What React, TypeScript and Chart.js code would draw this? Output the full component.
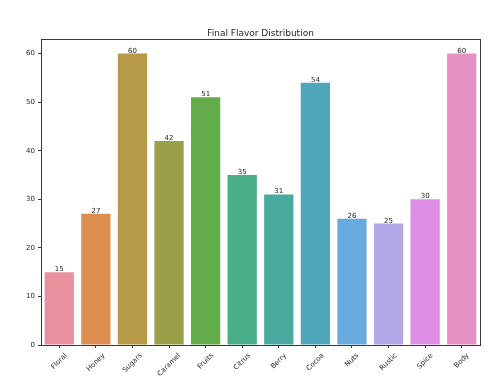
import React, { useEffect, useRef } from 'react';
import { Chart, registerables } from 'chart.js';

Chart.register(...registerables);

const chartTitle = 'Final Flavor Distribution';
const categories = ['Floral', 'Honey', 'Sugars', 'Caramel', 'Fruits', 'Citrus', 'Berry', 'Cocoa', 'Nuts', 'Rustic', 'Spice', 'Body'];
const counts = [15, 27, 60, 42, 51, 35, 31, 54, 26, 25, 30, 60];
const barColors = ['#e8919f', '#de8d50', '#b69a48', '#9aa047', '#63ac4b', '#4aae88', '#4aaa9f', '#4ea8b9', '#69aade', '#b4a7e8', '#de8ee6', '#e691c4'];
const yTicks = [0, 10, 20, 30, 40, 50, 60];
const yMax = 63;

const FONT = '"DejaVu Sans", sans-serif';
const TEXT = '#262626';

const decorPlugin = {
  id: 'decor',
  afterDraw(chart: any) {
    const { ctx, chartArea } = chart;
    const xs = chart.scales.x;
    const ys = chart.scales.y;
    ctx.save();
    // frame
    ctx.strokeStyle = '#3a3a3a';
    ctx.lineWidth = 1;
    ctx.strokeRect(Math.round(chartArea.left) + 0.5, Math.round(chartArea.top) + 0.5,
      Math.round(chartArea.right - chartArea.left), Math.round(chartArea.bottom - chartArea.top));
    // title
    ctx.fillStyle = TEXT;
    ctx.font = `9px ${FONT}`;
    ctx.textAlign = 'center';
    ctx.textBaseline = 'alphabetic';
    ctx.fillText(chartTitle, (chartArea.left + chartArea.right) / 2, chartArea.top - 3);
    // value labels
    ctx.font = `7px ${FONT}`;
    ctx.textBaseline = 'alphabetic';
    counts.forEach((v, i) => {
      const x = xs.getPixelForValue(i);
      const y = ys.getPixelForValue(v);
      ctx.fillText(String(v), x, y - 1);
    });
    // rotated x labels
    ctx.font = `7px ${FONT}`;
    ctx.textBaseline = 'middle';
    const h = 7;
    categories.forEach((c, i) => {
      const x = xs.getPixelForValue(i);
      const w = ctx.measureText(c).width;
      const bboxH = (w + h) * Math.SQRT1_2;
      const top = chartArea.bottom + 7;
      ctx.save();
      ctx.translate(x, top + bboxH / 2);
      ctx.rotate(-Math.PI / 4);
      ctx.fillText(c, 0, 0);
      ctx.restore();
    });
    ctx.restore();
  },
};

export default function App() {
  const canvasRef = useRef<HTMLCanvasElement | null>(null);

  useEffect(() => {
    document.body.style.margin = '0';
    const canvas = canvasRef.current;
    if (!canvas) return;
    const chart = new Chart(canvas, {
      type: 'bar',
      data: {
        labels: categories,
        datasets: [
          {
            data: counts,
            backgroundColor: barColors,
            borderWidth: 0,
            barPercentage: 0.8,
            categoryPercentage: 1,
          },
        ],
      },
      options: {
        animation: false,
        responsive: true,
        maintainAspectRatio: false,
        layout: { padding: { top: 39, right: 19, left: 0, bottom: 0 } },
        plugins: {
          legend: { display: false },
          title: { display: false },
          tooltip: { enabled: false },
        },
        scales: {
          x: {
            ticks: { display: false },
            grid: { display: true, drawOnChartArea: false, drawTicks: true, tickLength: 3, offset: false, color: '#3a3a3a' },
            border: { display: false },
            afterFit(scale: any) {
              scale.height = 36;
            },
          },
          y: {
            min: 0,
            max: yMax,
            afterBuildTicks(scale: any) {
              scale.ticks = yTicks.map((v) => ({ value: v }));
            },
            ticks: {
              font: { family: FONT, size: 7 },
              color: TEXT,
              padding: 3,
            },
            grid: { display: true, drawOnChartArea: false, drawTicks: true, tickLength: 3, color: '#3a3a3a' },
            border: { display: false },
            afterFit(scale: any) {
              scale.width = 41;
            },
          },
        },
      },
      plugins: [decorPlugin],
    });
    return () => chart.destroy();
  }, []);

  return (
    <div style={{ position: 'absolute', left: 0, top: 0, width: 499, height: 381, background: '#fff' }}>
      <canvas ref={canvasRef} />
    </div>
  );
}
